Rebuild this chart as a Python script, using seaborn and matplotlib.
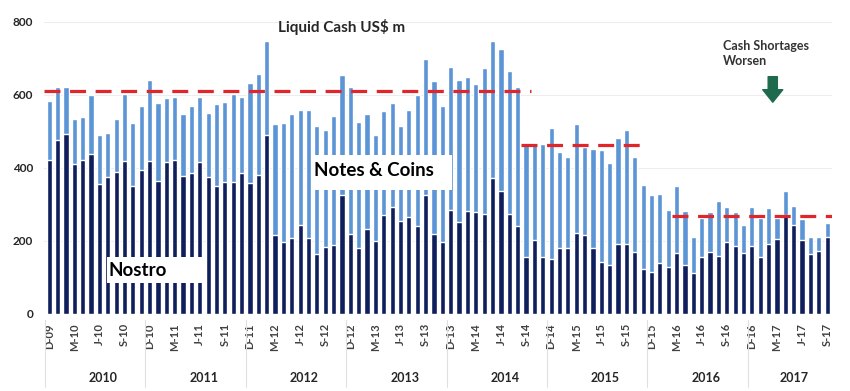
import numpy as np
import pandas as pd
import seaborn as sns
from matplotlib import pyplot as plt
from matplotlib.patches import Rectangle

# monthly data, Dec 2009 .. Sep 2017 (US$ m)
months = pd.period_range('2009-12', '2017-09', freq='M')
nostro = [422, 477, 493, 411, 422, 439, 356, 374, 390, 420, 350, 394,
          420, 363, 417, 422, 378, 387, 415, 374, 351, 362, 362, 386,
          359, 382, 489, 216, 196, 208, 245, 209, 163, 183, 189, 325,
          219, 181, 233, 199, 271, 294, 256, 265, 241, 326, 218, 196,
          285, 253, 282, 278, 274, 372, 336, 274, 242, 157, 203, 155,
          150, 181, 181, 221, 217, 180, 142, 133, 193, 192, 171, 122,
          116, 139, 130, 166, 135, 112, 157, 171, 159, 197, 187, 166,
          187, 157, 192, 206, 270, 244, 203, 165, 172, 210]
notes_coins = [160, 146, 128, 124, 117, 160, 135, 122, 143, 183, 173, 175,
               220, 216, 174, 171, 170, 182, 179, 177, 224, 218, 241, 209,
               275, 276, 259, 303, 327, 339, 314, 350, 353, 320, 354, 329,
               404, 346, 315, 291, 285, 285, 258, 295, 359, 373, 421, 374,
               392, 389, 367, 353, 400, 377, 390, 391, 380, 309, 263, 311,
               360, 262, 250, 300, 240, 272, 308, 280, 290, 313, 260, 232,
               211, 190, 155, 184, 147, 100, 106, 109, 150, 96, 91, 78,
               107, 105, 98, 58, 68, 52, 56, 45, 40, 39]

# average levels (red dashed lines): start month, end month, level
avg_start = ['2009-12', '2014-09', '2016-03']
avg_end = ['2014-09', '2015-10', '2017-09']
avg_level = [612, 464, 267]

years = ['2010', '2011', '2012', '2013', '2014', '2015', '2016', '2017']

df = pd.DataFrame({'month': months.strftime('%Y-%m'),
                   'nostro': nostro,
                   'notes': notes_coins})
df['total'] = df['nostro'] + df['notes']

navy = '#0f1f5c'
light = '#5b95d6'
txt = '#262626'

sns.set_style('white')
plt.rcParams['font.family'] = ['Lato', 'DejaVu Sans']

fig = plt.figure(figsize=(8.5, 3.91), dpi=100)
ax = fig.add_axes([0.052, 0.197, 0.927, 0.747])

sns.barplot(data=df, x='month', y='total', color=light, saturation=1,
            width=0.62, ax=ax)
sns.barplot(data=df, x='month', y='nostro', color=navy, saturation=1,
            width=0.62, ax=ax)

ax.set_xlim(-0.6, len(df) - 0.4)
ax.set_ylim(0, 800)
ax.set_yticks([0, 200, 400, 600, 800])
ax.yaxis.grid(True, color='#ededed', lw=0.8)
ax.set_axisbelow(True)
for s in ax.spines.values():
    s.set_visible(False)

idx = list(range(0, len(df), 3))
labs = [m.strftime('%b')[0] + '-' + m.strftime('%y') for m in months[idx]]
ax.set_xticks(idx)
ax.set_xticklabels(labs, rotation=90, fontsize=8, fontweight='bold', color='#404040')
ax.tick_params(axis='x', length=0, pad=6.5)
ax.tick_params(axis='y', length=0, pad=8, labelsize=8.5, labelcolor=txt)
for t in ax.get_yticklabels():
    t.set_fontweight('bold')
ax.set_xlabel('')
ax.set_ylabel('')

# red dashed average lines
pos = {m: i for i, m in enumerate(df['month'])}
for s, e, lvl in zip(avg_start, avg_end, avg_level):
    ax.plot([pos[s] - 0.6, pos[e] + 0.6], [lvl, lvl], color='#e0262b',
            lw=2.3, ls=(0, (5, 3)), zorder=5)

# year group labels and separators
trans = ax.get_xaxis_transform()
for k in range(len(years)):
    ax.plot([12 * k - 0.5] * 2, [-0.02, -0.25], transform=trans,
            color='#e0e0e0', lw=0.8, clip_on=False)
    if k < len(years) - 1:
        xc = 12 * k + 6.5
    else:
        xc = (12 * k + 0.5 + len(df) - 0.5) / 2
    ax.text(xc, -0.22, years[k], transform=trans, ha='center', va='center',
            fontsize=9, fontweight='bold', color=txt)

# series labels in white boxes
ax.add_patch(Rectangle((6.9, 85), 11.5, 71, facecolor='white', edgecolor='none', zorder=6))
ax.text(7.1, 120, 'Nostro', fontsize=13.5, fontweight='bold', color='black',
        va='center', ha='left', zorder=7)
ax.add_patch(Rectangle((31.4, 340), 16.7, 96, facecolor='white', edgecolor='none', zorder=6))
ax.text(31.6, 392, 'Notes & Coins', fontsize=13.5, fontweight='bold', color='black',
        va='center', ha='left', zorder=7)

ax.text(27.4, 786, 'Liquid Cash US$ m', fontsize=11, fontweight='bold', color=txt,
        va='center', ha='left')
ax.text(80.5, 714, 'Cash Shortages\nWorsen', fontsize=9, fontweight='bold', color='#333333',
        va='center', ha='left', linespacing=1.3, clip_on=False)
ax.annotate('', xy=(86.5, 580), xytext=(86.5, 650),
            arrowprops=dict(arrowstyle='simple,head_width=1.2,head_length=0.75,tail_width=0.55',
                            color='#1d6b4c', shrinkA=0, shrinkB=0, mutation_scale=12))

fig.savefig('out.png', dpi=100)
